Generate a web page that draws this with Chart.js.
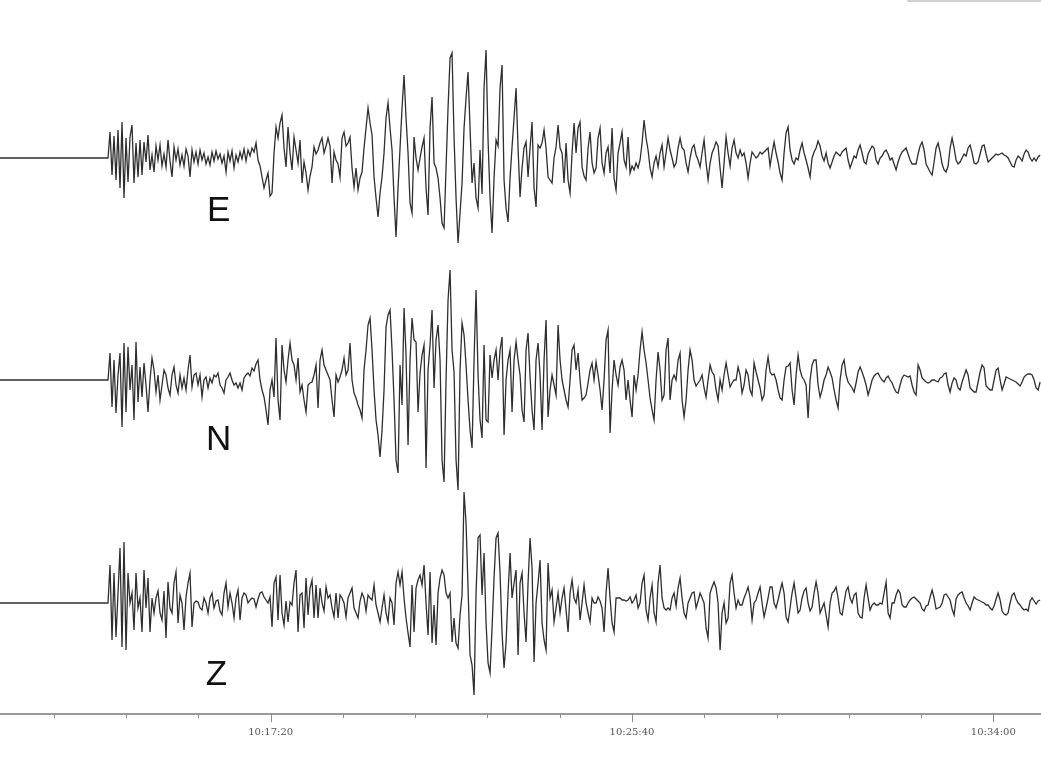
<!DOCTYPE html>
<html lang="en">
<head>
<meta charset="UTF-8" />
<title>Seismogram E N Z</title>
<script src="https://cdn.jsdelivr.net/npm/chart.js"></script>
<style>
  body { margin: 0; background: #fff; }
  #wrap { width: 1041px; height: 760px; }
</style>
</head>
<body>
<div id="wrap"><canvas id="seis" width="1041" height="760"></canvas></div>
<script>
// time in seconds after 10:00:00, one sample every 2.768 s
const startSec = 665.4;
const sampleStep = 2.768;
const endSec = 2106;

const tickSeconds = [740, 840, 940, 1040, 1140, 1240, 1340, 1440, 1540, 1640, 1740, 1840, 1940, 2040];
const labelSeconds = [1040, 1540, 2040];

const traceNames = ['E', 'N', 'Z'];
const traceBaselines = [556, 334, 111];
const nameSeconds = [968, 968, 965];
const nameOffsets = [-63, -70, -82];

const eastValues = [
  0,0,0,0,0,0,0,0,0,0, 0,0,0,0,0,0,0,0,0,0, 0,0,0,0,0,0,0,0,0,0,
  0,0,0,0,0,0,0,0,0,0, 0,0,0,0,0,0,0,0,0,0,
  0,0,0,0,0,26,-17,22,-22,28,
  -30,36,-40,20,-24,21,33,-25,15,-19,
  18,-17,16,-4,23,-12,3,-14,12,-2,
  13,-8,4,-9,18,-3,-19,11,-2,9,
  -7,3,-8,9,2,-19,8,-4,6,-6,
  8,-2,5,-6,1,-7,6,-3,7,-1,
  4,-5,2,-14,6,-3,7,-10,3,-4,
  6,-1,9,-3,8,2,10,6,15,-2,
  -8,-19,-30,-22,-15,-38,-35,5,31,20,
  35,43,10,-9,31,5,-12,21,8,-5,
  18,-25,-4,-15,-32,-18,-9,11,4,8,
  15,20,5,12,20,12,-25,6,-2,-6,
  -19,20,26,12,15,21,-10,-29,-10,-32,
  -20,-14,10,30,50,35,23,-19,-40,-59,
  -35,-19,5,40,55,30,8,-40,-79,-30,
  10,50,83,40,5,-45,-55,21,0,-12,
  0,11,20,-30,-57,30,61,-5,-10,-20,
  -40,-65,-70,-10,50,100,105,21,-40,-85,
  -55,-25,30,60,86,30,-25,-5,-40,-50,
  8,-36,70,108,18,-40,-75,-20,18,12,
  70,93,-22,-50,-64,-20,11,40,70,10,
  -39,-10,10,16,-19,10,36,-30,-49,13,
  10,15,28,10,-19,-22,-25,0,11,33,
  10,5,-25,15,-22,-35,5,35,5,30,
  36,-9,-18,-22,10,26,-5,-15,-10,20,
  30,-5,-15,5,11,-15,30,-20,-32,5,
  15,26,-2,-9,21,-15,-8,-12,-5,-10,
  -2,15,38,20,8,-10,-19,-5,2,-9,
  5,13,-9,5,20,8,0,-9,-5,10,
  20,10,8,-5,-14,0,10,13,3,-2,
  -9,5,18,-5,-22,-5,5,10,16,12,
  -10,-30,-5,21,5,-8,10,18,5,0,
  8,2,5,-5,-20,-5,6,3,0,2,
  6,4,6,8,10,-8,5,16,5,-4,
  -15,-22,5,25,31,8,-2,-6,0,-2,
  8,15,5,-2,-10,-19,0,6,10,17,
  12,2,-3,5,-5,-10,-4,2,6,4,
  2,6,8,10,-2,-10,-4,2,0,8,
  13,5,-4,-6,4,8,12,10,-2,-6,
  0,2,6,8,4,-2,0,-6,-12,-4,
  2,6,8,10,4,-2,-6,-6,-6,4,
  12,16,8,-6,-10,-14,-17,-4,10,15,
  6,-6,-12,-14,-8,10,20,10,-2,-6,
  -4,0,4,2,10,13,5,-5,-6,-4,
  4,12,13,4,-4,-2,0,2,4,3,
  4,5,3,2,0,-4,-8,-9,-2,2,
  0,-3,4,8,6,0,-3,0,-3,1,
  3
];

const northValues = [
  0,0,0,0,0,0,0,0,0,0, 0,0,0,0,0,0,0,0,0,0, 0,0,0,0,0,0,0,0,0,0,
  0,0,0,0,0,0,0,0,0,0, 0,0,0,0,0,0,0,0,0,0,
  0,0,0,0,0,27,-27,20,-33,5,
  27,-47,37,-32,33,-10,15,-40,38,-22,
  13,-17,17,-5,-32,0,22,10,-12,5,
  -20,-5,10,5,-8,-15,5,13,-5,-13,
  5,-8,2,-10,10,25,-7,5,7,-5,
  5,-17,0,3,-8,2,-3,5,3,7,
  -5,-8,-13,0,3,7,0,-5,-3,-8,
  -3,-10,2,5,7,4,12,9,16,20,
  0,-10,-17,-30,-45,-10,0,-17,42,-20,
  -40,35,10,-2,20,37,20,15,0,22,
  -12,-5,-20,-32,-5,-3,-2,5,15,-28,
  20,30,15,10,5,0,-20,-37,5,-2,
  3,10,22,5,10,37,0,-13,-18,-25,
  -30,-38,10,30,55,62,30,-10,-40,-55,
  -77,-50,-10,53,65,70,30,-20,-80,-93,
  15,-25,72,25,-65,20,62,40,38,-32,
  7,25,35,-88,10,35,70,-8,40,55,
  20,-80,-102,0,80,110,30,8,-80,-110,
  10,57,45,15,-20,-50,-68,20,90,5,
  -40,-58,35,-40,-42,25,2,20,30,0,
  30,43,-55,0,20,30,-32,20,38,20,
  5,-30,-42,30,47,3,-30,-50,20,37,
  5,-50,20,60,-37,-10,5,-5,-15,55,
  20,0,-10,-20,-27,0,30,35,10,27,
  0,-20,-18,-15,-3,10,17,0,18,5,
  -10,-30,0,40,50,-53,-10,20,5,-5,
  13,20,10,-20,0,-20,-37,5,-10,5,
  30,48,30,17,0,-18,-30,-40,0,28,
  10,-20,-15,30,42,-20,0,5,0,20,
  27,-20,-37,-20,10,30,20,0,-6,-3,
  0,5,-8,-17,0,15,8,5,-10,-20,
  0,-10,5,17,5,-7,-3,0,0,13,
  5,-13,-5,10,5,-10,-15,17,8,0,
  -8,-20,-15,10,23,8,5,6,0,-10,
  -18,-20,0,13,14,17,-10,-25,5,25,
  10,3,0,-5,-38,0,15,20,20,-5,
  -17,-10,0,5,13,8,2,-10,-20,-28,
  0,15,20,5,-2,-5,-8,-12,-3,8,
  13,8,2,-5,-15,-8,0,4,6,7,
  3,0,-2,2,4,0,-3,-8,-12,-13,
  -5,2,5,4,3,4,-5,-12,-15,15,
  10,2,0,-2,-3,-2,0,0,-1,-2,
  2,3,6,7,-5,-12,-3,2,0,-8,
  -10,-2,4,10,5,-8,-10,-12,-12,-2,
  8,15,12,-6,-8,-10,-10,0,10,12,
  0,-10,-4,3,2,1,0,-1,-2,-4,
  -6,-2,3,5,6,6,5,0,-8,-10,
  -2
];

const verticalValues = [
  0,0,0,0,0,0,0,0,0,0, 0,0,0,0,0,0,0,0,0,0, 0,0,0,0,0,0,0,0,0,0,
  0,0,0,0,0,0,0,0,0,0, 0,0,0,0,0,0,0,0,0,0,
  0,0,0,0,0,38,-37,30,-34,10,
  55,-44,61,-47,30,0,10,-27,30,-5,
  5,-29,33,-5,25,-29,5,-10,5,12,
  -10,-17,12,-35,21,-5,-10,20,31,-20,
  8,0,-27,6,20,30,-24,0,2,1,
  -5,-7,5,0,-10,5,10,-5,2,3,
  -8,-12,10,20,-4,10,0,-15,5,13,
  -17,5,10,8,0,3,5,4,-4,4,
  10,11,6,3,0,6,-24,20,26,-17,
  28,-10,-22,2,-19,1,-2,20,33,-29,
  8,10,-25,25,-12,15,23,-15,18,-15,
  15,0,-8,16,5,8,-5,-14,10,-15,
  8,5,0,-14,5,10,15,-5,-10,-15,
  2,10,5,-8,8,5,3,18,-2,-10,
  -19,-5,8,-10,-19,5,0,-22,20,31,
  18,31,5,-15,-30,-44,18,-29,15,23,
  28,18,38,0,-32,31,-40,-2,-42,10,
  25,33,28,10,5,10,-39,-15,-40,-45,
  -12,8,111,80,15,-52,-62,-92,10,65,
  68,8,50,-20,-60,-70,-25,25,65,70,
  30,-30,-65,-40,10,50,5,20,33,-52,
  20,30,-10,-39,20,65,35,-59,0,20,
  43,-20,-37,-47,40,5,13,-19,-5,10,
  -10,5,15,-7,-29,10,23,5,0,13,
  -17,0,18,0,-10,-19,5,0,0,6,
  2,-5,-29,10,35,5,-20,-29,5,5,
  5,3,3,2,3,6,0,3,8,-5,
  0,20,28,-7,-17,5,18,-10,-19,20,
  38,5,-5,-7,-5,-7,5,10,-3,15,
  25,5,-10,-15,0,5,10,11,-5,2,
  10,5,0,-25,-35,10,16,21,15,0,
  -47,-10,0,-20,-15,20,28,10,-5,3,
  -2,-2,5,10,16,5,-17,0,3,10,
  16,0,-14,-5,5,16,16,0,-5,3,
  12,20,10,-14,-19,-5,10,20,5,-10,
  -7,5,12,15,0,-8,-4,10,21,10,
  -10,-5,0,-12,-24,0,10,12,16,5,
  -10,-12,0,12,16,5,0,8,10,-10,
  -14,-15,5,18,5,-7,-2,0,-2,-2,
  0,-1,10,21,-10,-15,0,0,8,13,
  10,-2,-4,-4,0,3,5,6,4,2,
  0,-6,-8,-3,-2,6,13,5,-6,-5,
  -4,0,8,9,6,3,-6,-12,4,8,
  10,11,5,0,-3,-7,0,6,4,3,
  2,1,0,-2,-2,-5,-7,-3,4,10,
  3,-8,-11,-12,-10,0,8,10,4,0,
  -2,-5,-7,-6,-8,2,5,2,-1,2,
  3
];

const traceValues = [eastValues, northValues, verticalValues];

function toPoints(values, base) {
  return values.map((v, i) => ({ x: startSec + i * sampleStep, y: base + v }));
}

function clock(sec) {
  const m = Math.floor(sec / 60);
  const s = Math.round(sec % 60);
  return '10:' + String(m).padStart(2, '0') + ':' + String(s).padStart(2, '0');
}

const decor = {
  id: 'decor',
  afterDraw(chart) {
    const { ctx, chartArea, scales } = chart;
    const xs = scales.x, ys = scales.y;
    ctx.save();

    // short ticks under the time axis, longer ones where a time is written
    ctx.strokeStyle = '#8a8a8a';
    ctx.lineWidth = 1;
    tickSeconds.forEach(v => {
      const px = Math.round(xs.getPixelForValue(v)) + 0.5;
      const len = labelSeconds.includes(v) ? 8 : 4;
      ctx.beginPath();
      ctx.moveTo(px, chartArea.bottom);
      ctx.lineTo(px, chartArea.bottom + len);
      ctx.stroke();
    });

    // faint strip in the top right corner
    ctx.fillStyle = '#d0d0d0';
    const sx = xs.getPixelForValue(1921);
    ctx.fillRect(sx, chartArea.top, chartArea.right - sx, 2);

    // component names
    ctx.fillStyle = '#111';
    ctx.font = '35px "Liberation Sans", Arial, sans-serif';
    ctx.textAlign = 'center';
    ctx.textBaseline = 'alphabetic';
    traceNames.forEach((name, k) => {
      ctx.fillText(name, xs.getPixelForValue(nameSeconds[k]),
        ys.getPixelForValue(traceBaselines[k] + nameOffsets[k]));
    });
    ctx.restore();
  }
};

new Chart(document.getElementById('seis'), {
  type: 'line',
  data: {
    datasets: traceNames.map((name, k) => ({
      label: name,
      data: toPoints(traceValues[k], traceBaselines[k]),
      borderColor: '#2e2e2e',
      borderWidth: 1.3,
      pointRadius: 0,
      tension: 0,
      fill: false
    }))
  },
  options: {
    responsive: false,
    animation: false,
    devicePixelRatio: 1,
    layout: { padding: 0 },
    plugins: { legend: { display: false }, tooltip: { enabled: false } },
    scales: {
      x: {
        type: 'linear',
        min: startSec,
        max: endSec,
        afterBuildTicks: scale => { scale.ticks = tickSeconds.map(v => ({ value: v })); },
        afterFit: scale => { scale.height = 46; },
        grid: { display: true, drawOnChartArea: false, drawTicks: false },
        border: { display: true, color: '#9a9a9a', width: 2 },
        ticks: {
          autoSkip: false,
          maxRotation: 0,
          padding: 12,
          color: '#555',
          font: { family: '"DejaVu Serif", serif', size: 10 },
          callback: v => labelSeconds.includes(v) ? clock(v) : ''
        }
      },
      y: {
        display: false,
        min: 0,
        max: 714
      }
    }
  },
  plugins: [decor]
});
</script>
</body>
</html>
